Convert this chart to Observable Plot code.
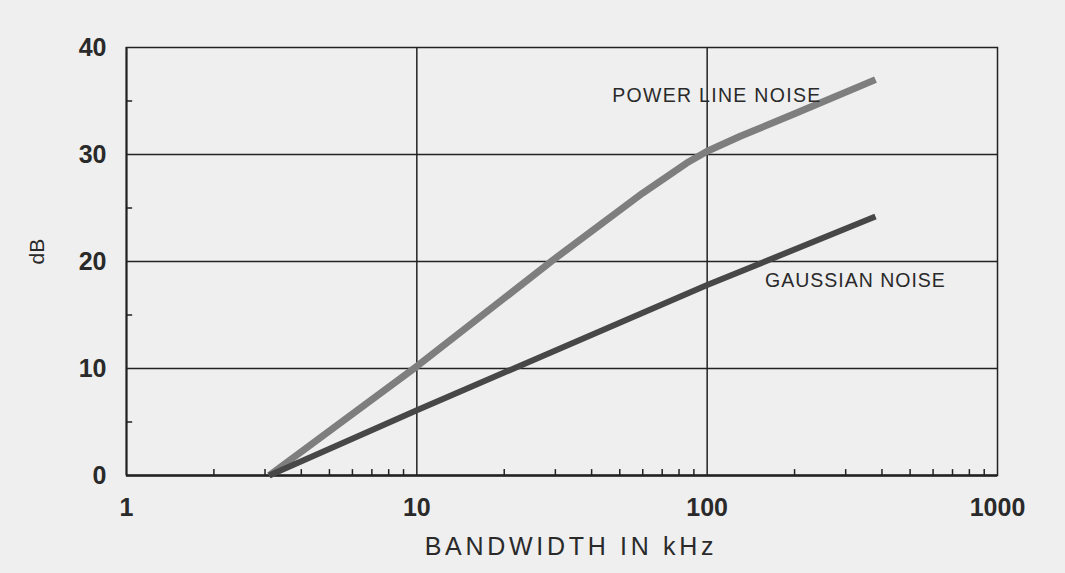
<!DOCTYPE html>
<html>
<head>
<meta charset="utf-8">
<script src="https://cdn.jsdelivr.net/npm/d3@7"></script>
<script src="https://cdn.jsdelivr.net/npm/@observablehq/plot@0.6"></script>
<style>
  html, body { margin: 0; padding: 0; background: #efefef; }
  #chart svg { display: block; }
</style>
</head>
<body>
<div id="chart"></div>
<script>
// Data (bandwidth in kHz -> dB)
const powerBandwidth = [3.1, 10, 30, 60, 85, 100, 130, 200, 380];
const powerDb        = [0, 10.2, 20.3, 26.4, 29.2, 30.3, 31.7, 33.8, 37];
const gaussBandwidth = [3.1, 10, 100, 380];
const gaussDb        = [0, 6.1, 17.8, 24.2];

const seriesNames  = ["POWER LINE NOISE", "GAUSSIAN NOISE"];
const labelBandwidth = [108, 324];
const labelDb        = [35.5, 18.2];

const xTicks = [1, 10, 100, 1000];
const xMinorTicks = [2, 3, 4, 5, 6, 7, 8, 9, 20, 30, 40, 50, 60, 70, 80, 90, 200, 300, 400, 500, 600, 700, 800, 900];
const yTicks = [0, 10, 20, 30, 40];
const yMinorTicks = [5, 15, 25, 35];
const xGrid = [10, 100];
const yGrid = [10, 20, 30];

const xTitle = "BANDWIDTH IN kHz";
const yTitle = "dB";

const power = powerBandwidth.map((x, i) => ({x, y: powerDb[i]}));
const gauss = gaussBandwidth.map((x, i) => ({x, y: gaussDb[i]}));
const labels = seriesNames.map((name, i) => ({name, x: labelBandwidth[i], y: labelDb[i]}));

const ink = "#222";
const font = "Liberation Sans, Arial, Helvetica, sans-serif";

const chart = Plot.plot({
  width: 1065,
  height: 573,
  marginLeft: 126,
  marginRight: 68,
  marginTop: 47,
  marginBottom: 98,
  style: {background: "#efefef", fontFamily: font, color: ink},
  x: {type: "log", domain: [1, 1000], axis: null},
  y: {domain: [0, 40], axis: null},
  marks: [
    Plot.ruleY(yGrid, {stroke: ink, strokeWidth: 1.5}),
    Plot.ruleX(xGrid, {stroke: ink, strokeWidth: 1.5}),
    Plot.ruleX(xMinorTicks, {y1: 0, y2: 0.55, stroke: ink, strokeWidth: 1.5}),
    Plot.ruleY(yMinorTicks, {x1: 1, x2: 1.05, stroke: ink, strokeWidth: 1.5}),
    Plot.frame({stroke: ink, strokeWidth: 1.5}),
    Plot.ruleY([0], {stroke: ink, strokeWidth: 2.5}),
    Plot.ruleX([1], {stroke: ink, strokeWidth: 2}),
    Plot.line(power, {x: "x", y: "y", stroke: "#7e7e7e", strokeWidth: 7, curve: "linear", strokeLinecap: "butt", strokeLinejoin: "round"}),
    Plot.line(gauss, {x: "x", y: "y", stroke: "#474747", strokeWidth: 6, curve: "linear", strokeLinecap: "butt", strokeLinejoin: "round"}),
    Plot.text(labels, {x: "x", y: "y", text: "name", fontSize: 19.5, fill: "#2a2a2a", textAnchor: "middle", lineAnchor: "middle"}),
    Plot.axisX({ticks: xTicks, tickFormat: d => String(d), tickSize: 0, tickPadding: 23, fontSize: 25, fontWeight: "bold", fill: "#2a2a2a", label: null}),
    Plot.axisY({ticks: yTicks, tickFormat: d => String(d), tickSize: 0, tickPadding: 20, fontSize: 25, fontWeight: "bold", fill: "#2a2a2a", label: null}),
    Plot.text([xTitle], {frameAnchor: "bottom", dx: 9, dy: 71, text: d => d, fontSize: 25, fill: "#2a2a2a", lineAnchor: "middle"}),
    Plot.text([yTitle], {frameAnchor: "left", dx: -89, dy: 3, text: d => d, fontSize: 21, fill: "#2a2a2a", rotate: -90, lineAnchor: "middle"})
  ]
});

d3.select(chart).selectAll("text").each(function() {
  const t = this.textContent;
  if (t === xTitle) this.style.letterSpacing = "3.7px";
  else if (t === seriesNames[0]) this.style.letterSpacing = "1.3px";
  else if (t === seriesNames[1]) this.style.letterSpacing = "1px";
});

document.getElementById("chart").append(chart);
</script>
</body>
</html>
